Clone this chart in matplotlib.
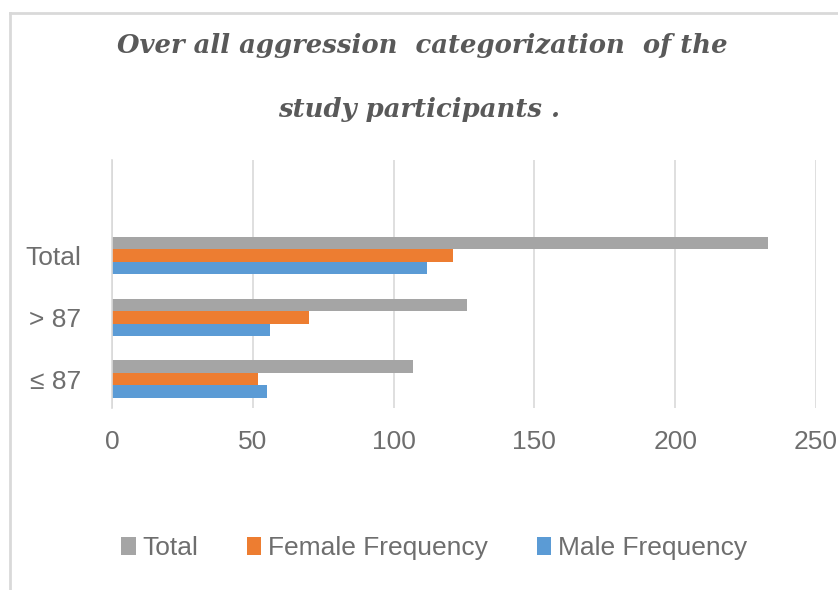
import numpy as np
import matplotlib.pyplot as plt
from matplotlib.lines import Line2D

categories = ['≤ 87', '> 87', 'Total']
male = [55, 56, 112]
female = [52, 70, 121]
total = [107, 126, 233]
xticks = [0, 50, 100, 150, 200, 250]

grey_txt = '#595959'
tick_txt = '#6e6e6e'
c_total = '#a5a5a5'
c_female = '#ed7d31'
c_male = '#5b9bd5'
sans = ['Liberation Sans', 'DejaVu Sans']

fig = plt.figure(figsize=(8.38, 5.90), dpi=100)
ax = fig.add_axes([112/838, 1 - 408/590, (816 - 112)/838, (408 - 160)/590])

y = np.arange(len(categories))
h = 0.203
ax.barh(y - h, male, height=h, color=c_male, label='Male Frequency')
ax.barh(y, female, height=h, color=c_female, label='Female Frequency')
ax.barh(y + h, total, height=h, color=c_total, label='Total')

ax.set_xlim(0, 250)
ax.set_ylim(-0.47, 3.55)
ax.set_xticks(xticks)
ax.set_yticks(y)
ax.set_yticklabels(categories)
ax.grid(axis='x', color='#d9d9d9', linewidth=1.2)
ax.set_axisbelow(True)
for s in ['top', 'right', 'bottom']:
    ax.spines[s].set_visible(False)
ax.spines['left'].set_color('#d9d9d9')
ax.spines['left'].set_linewidth(1.2)
ax.tick_params(axis='both', length=0, labelsize=19, labelcolor=tick_txt)
ax.tick_params(axis='x', pad=16)
ax.tick_params(axis='y', pad=22)
for t in ax.get_xticklabels() + ax.get_yticklabels():
    t.set_fontfamily(sans)

fig.text(0.504, 1 - 46/590, 'Over all aggression  categorization  of the',
         ha='center', va='center', fontsize=18.6, fontweight='bold', fontstyle='italic',
         family='DejaVu Serif', color=grey_txt)
fig.text(0.5, 1 - 110/590, 'study participants .',
         ha='center', va='center', fontsize=18.6, fontweight='bold', fontstyle='italic',
         family='DejaVu Serif', color=grey_txt)

handles, labels = ax.get_legend_handles_labels()
leg = fig.legend(handles[::-1], labels[::-1], loc='center', bbox_to_anchor=(0.518, 1 - 548/590),
                 ncol=3, frameon=False, handlelength=0.55, handleheight=0.65,
                 handletextpad=0.25, columnspacing=1.85,
                 prop={'family': sans, 'size': 19})
for t in leg.get_texts():
    t.set_color(tick_txt)

fig.add_artist(Line2D([10/838, 10/838], [0, 1 - 13/590], transform=fig.transFigure,
                      color='#d9d9d9', linewidth=2))
fig.add_artist(Line2D([10/838, 1], [1 - 13/590, 1 - 13/590], transform=fig.transFigure,
                      color='#d9d9d9', linewidth=2))

fig.savefig('out.png', dpi=100)
